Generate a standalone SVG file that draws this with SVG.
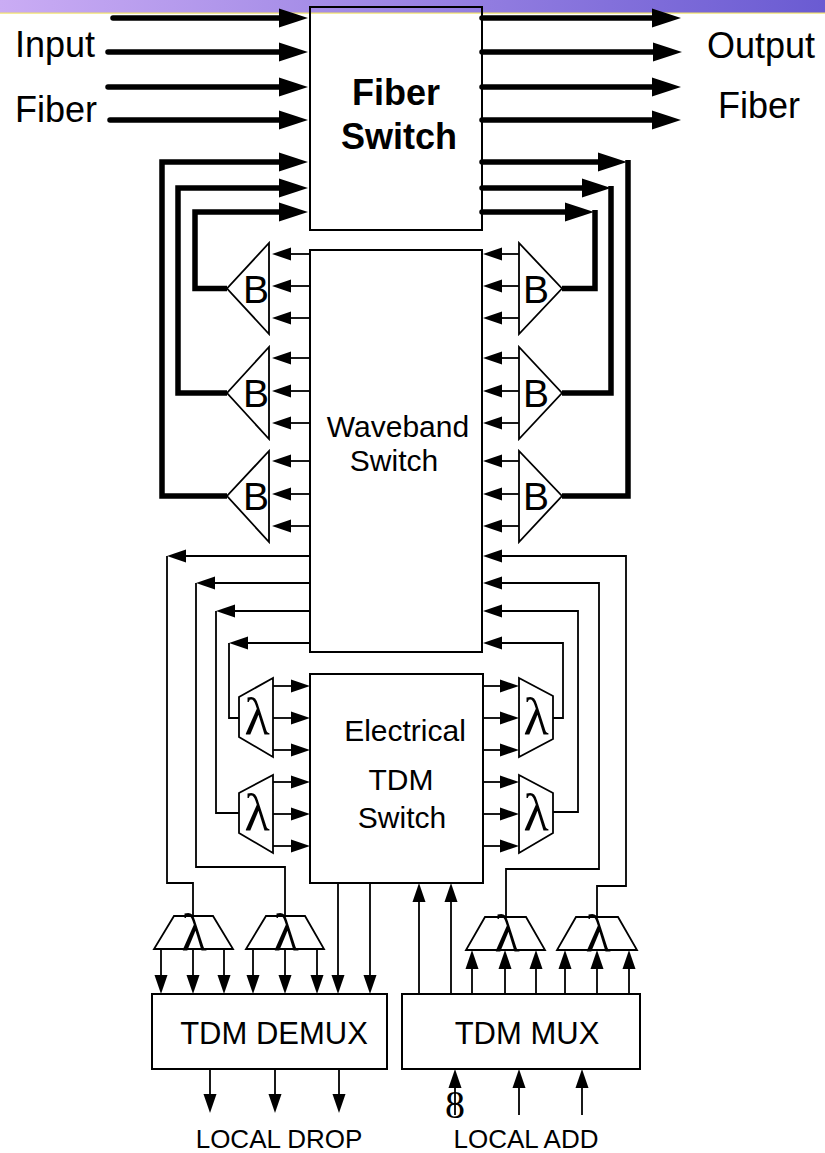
<svg xmlns="http://www.w3.org/2000/svg" width="825" height="1153" viewBox="0 0 825 1153">
<style>
.box{fill:none;stroke:#000;stroke-width:2}
.shape{fill:#fff;stroke:#000;stroke-width:1.8;stroke-linejoin:miter}
.thick{fill:none;stroke:#000;stroke-width:5.5;stroke-linejoin:miter}
.thin{fill:none;stroke:#000;stroke-width:1.8}
.sans{font-family:"Liberation Sans",Arial,sans-serif;fill:#000}
.serif{font-family:"Liberation Serif","Times New Roman",serif;fill:#000}
.big{font-size:36px}
.mid{font-size:30px}
.lab{font-size:26px}
.bee{font-size:39px}
.lam{font-size:52px}
</style>
<defs>
<linearGradient id="bar" x1="0" y1="0" x2="1" y2="0">
<stop offset="0" stop-color="#caacf4"/>
<stop offset="1" stop-color="#6a5bd2"/>
</linearGradient>
<marker id="ta" viewBox="0 -10 29 20" markerWidth="29" markerHeight="20" refX="0" refY="0" orient="auto" markerUnits="userSpaceOnUse"><path d="M0,-9.5 L29,0 L0,9.5 z" fill="#000"/></marker>
<marker id="sa" viewBox="0 -7 19 14" markerWidth="19" markerHeight="14" refX="0" refY="0" orient="auto" markerUnits="userSpaceOnUse"><path d="M0,-6.5 L19,0 L0,6.5 z" fill="#000"/></marker>
</defs>
<rect x="0" y="0" width="825" height="13" fill="url(#bar)"/>
<rect x="0" y="12.5" width="825" height="1.2" fill="#f2e36a"/>

<g id="fiber-switch">
<rect class="box" x="310" y="7" width="172" height="223"/>
<text class="sans big" x="396" y="105" text-anchor="middle" font-weight="bold">Fiber</text>
<text class="sans big" x="399" y="149" text-anchor="middle" font-weight="bold">Switch</text>
</g>
<g id="input-label"><text class="sans big" x="15" y="57">Input</text><text class="sans big" x="15" y="122">Fiber</text></g>
<g id="output-label"><text class="sans big" x="707" y="58">Output</text><text class="sans big" x="718" y="118">Fiber</text></g>

<g id="waveband-switch">
<rect class="box" x="310" y="250" width="172" height="402"/>
<text class="sans mid" x="398" y="437" text-anchor="middle">Waveband</text>
<text class="sans mid" x="394" y="471" text-anchor="middle">Switch</text>
</g>

<g id="tdm-switch">
<rect class="box" x="310" y="674" width="173" height="209"/>
<text class="sans mid" x="405" y="741" text-anchor="middle">Electrical</text>
<text class="sans mid" x="401" y="790" text-anchor="middle">TDM</text>
<text class="sans mid" x="402" y="828" text-anchor="middle">Switch</text>
</g>

<g id="b-left-1"><polygon class="shape" points="269,243 269,334 227,288.5"/><text class="sans bee" x="256" y="303" text-anchor="middle">B</text></g>
<g id="b-left-2"><polygon class="shape" points="269,347 269,439 227,393"/><text class="sans bee" x="256" y="407" text-anchor="middle">B</text></g>
<g id="b-left-3"><polygon class="shape" points="269,451 269,542 227,496"/><text class="sans bee" x="256" y="510" text-anchor="middle">B</text></g>
<g id="b-right-1"><polygon class="shape" points="519,243 519,334 562,288.5"/><text class="sans bee" x="536" y="303" text-anchor="middle">B</text></g>
<g id="b-right-2"><polygon class="shape" points="519,347 519,439 562,393"/><text class="sans bee" x="536" y="407" text-anchor="middle">B</text></g>
<g id="b-right-3"><polygon class="shape" points="519,451 519,542 562,496"/><text class="sans bee" x="536" y="510" text-anchor="middle">B</text></g>

<g id="lambda-left-1"><polygon class="shape" points="239,697 273,678 273,757 239,737"/><text class="serif lam" x="257" y="734" text-anchor="middle">λ</text></g>
<g id="lambda-left-2"><polygon class="shape" points="239,793 273,775 273,853 239,833"/><text class="serif lam" x="257" y="830" text-anchor="middle">λ</text></g>
<g id="lambda-right-1"><polygon class="shape" points="519,678 553,696 553,739 519,757"/><text class="serif lam" x="536" y="734" text-anchor="middle">λ</text></g>
<g id="lambda-right-2"><polygon class="shape" points="519,775 553,793 553,833 519,853"/><text class="serif lam" x="536" y="830" text-anchor="middle">λ</text></g>

<g id="demux-lambda-1"><polygon class="shape" points="174,916 213,916 233,949 154,949"/><text class="serif lam" x="194" y="950" text-anchor="middle">λ</text></g>
<g id="demux-lambda-2"><polygon class="shape" points="266,916 305,916 324,949 246,949"/><text class="serif lam" x="286" y="950" text-anchor="middle">λ</text></g>
<g id="mux-lambda-1"><polygon class="shape" points="485,917 526,917 545,950 466,950"/><text class="serif lam" x="507" y="951" text-anchor="middle">λ</text></g>
<g id="mux-lambda-2"><polygon class="shape" points="576,917 618,917 637,950 557,950"/><text class="serif lam" x="598" y="951" text-anchor="middle">λ</text></g>

<g id="tdm-demux">
<rect class="box" x="152" y="994" width="235" height="75"/>
<text class="sans" font-size="31" x="274" y="1044" text-anchor="middle">TDM DEMUX</text>
</g>
<g id="tdm-mux">
<rect class="box" x="402" y="994" width="238" height="75"/>
<text class="sans" font-size="31" x="527" y="1044" text-anchor="middle">TDM MUX</text>
</g>
<g id="local-drop"><text class="sans lab" x="279" y="1148" text-anchor="middle">LOCAL DROP</text></g>
<g id="local-add"><text class="sans lab" x="526" y="1148" text-anchor="middle">LOCAL ADD</text></g>

<g id="connectors">
<g stroke-linecap="round">
<path class="thick" d="M113,18 H279" marker-end="url(#ta)"/>
<path class="thick" d="M108,52 H279" marker-end="url(#ta)"/>
<path class="thick" d="M108,87 H279" marker-end="url(#ta)"/>
<path class="thick" d="M110,120 H279" marker-end="url(#ta)"/>
<path class="thick" d="M482,18 H652" marker-end="url(#ta)"/>
<path class="thick" d="M482,52 H653" marker-end="url(#ta)"/>
<path class="thick" d="M482,87 H652" marker-end="url(#ta)"/>
<path class="thick" d="M482,120 H652" marker-end="url(#ta)"/>
<path class="thick" d="M482,162 H598" marker-end="url(#ta)"/>
<path class="thick" d="M482,188 H582" marker-end="url(#ta)"/>
<path class="thick" d="M482,212 H565" marker-end="url(#ta)"/>
</g>
<path class="thick" d="M227,288.5 H195 V212 H279" marker-end="url(#ta)"/>
<path class="thick" d="M227,393 H178 V188 H279" marker-end="url(#ta)"/>
<path class="thick" d="M227,496 H162 V162 H279" marker-end="url(#ta)"/>
<path class="thick" d="M628,160 V496 H562"/>
<path class="thick" d="M611,186 V393 H562"/>
<path class="thick" d="M595,210 V288.5 H562"/>
<path class="thin" d="M310,254 H291" marker-end="url(#sa)"/>
<path class="thin" d="M310,286 H291" marker-end="url(#sa)"/>
<path class="thin" d="M310,318 H291" marker-end="url(#sa)"/>
<path class="thin" d="M310,358 H291" marker-end="url(#sa)"/>
<path class="thin" d="M310,391 H291" marker-end="url(#sa)"/>
<path class="thin" d="M310,423 H291" marker-end="url(#sa)"/>
<path class="thin" d="M310,461 H291" marker-end="url(#sa)"/>
<path class="thin" d="M310,494 H291" marker-end="url(#sa)"/>
<path class="thin" d="M310,526 H291" marker-end="url(#sa)"/>
<path class="thin" d="M519,254 H502" marker-end="url(#sa)"/>
<path class="thin" d="M519,286 H502" marker-end="url(#sa)"/>
<path class="thin" d="M519,318 H502" marker-end="url(#sa)"/>
<path class="thin" d="M519,358 H502" marker-end="url(#sa)"/>
<path class="thin" d="M519,391 H502" marker-end="url(#sa)"/>
<path class="thin" d="M519,423 H502" marker-end="url(#sa)"/>
<path class="thin" d="M519,461 H502" marker-end="url(#sa)"/>
<path class="thin" d="M519,494 H502" marker-end="url(#sa)"/>
<path class="thin" d="M519,526 H502" marker-end="url(#sa)"/>
<path class="thin" d="M310,556 H186" marker-end="url(#sa)"/>
<path class="thin" d="M167,556 V883 H193 V916"/>
<path class="thin" d="M310,583 H215" marker-end="url(#sa)"/>
<path class="thin" d="M196,583 V867 H285 V916"/>
<path class="thin" d="M310,611 H235" marker-end="url(#sa)"/>
<path class="thin" d="M216,611 V813 H239"/>
<path class="thin" d="M310,643 H248" marker-end="url(#sa)"/>
<path class="thin" d="M229,643 V718 H239"/>
<path class="thin" d="M273,686 H291" marker-end="url(#sa)"/>
<path class="thin" d="M273,718 H291" marker-end="url(#sa)"/>
<path class="thin" d="M273,750 H291" marker-end="url(#sa)"/>
<path class="thin" d="M273,782 H291" marker-end="url(#sa)"/>
<path class="thin" d="M273,814 H291" marker-end="url(#sa)"/>
<path class="thin" d="M273,846 H291" marker-end="url(#sa)"/>
<path class="thin" d="M483,686 H500" marker-end="url(#sa)"/>
<path class="thin" d="M483,718 H500" marker-end="url(#sa)"/>
<path class="thin" d="M483,750 H500" marker-end="url(#sa)"/>
<path class="thin" d="M483,782 H500" marker-end="url(#sa)"/>
<path class="thin" d="M483,814 H500" marker-end="url(#sa)"/>
<path class="thin" d="M483,846 H500" marker-end="url(#sa)"/>
<path class="thin" d="M553,718 H563 V643 H502" marker-end="url(#sa)"/>
<path class="thin" d="M553,812 H578 V611 H502" marker-end="url(#sa)"/>
<path class="thin" d="M506,917 V869 H599 V583 H502" marker-end="url(#sa)"/>
<path class="thin" d="M597,917 V886 H626 V556 H502" marker-end="url(#sa)"/>
<path class="thin" d="M161,949 V975" marker-end="url(#sa)"/>
<path class="thin" d="M193,949 V975" marker-end="url(#sa)"/>
<path class="thin" d="M224,949 V975" marker-end="url(#sa)"/>
<path class="thin" d="M253,949 V975" marker-end="url(#sa)"/>
<path class="thin" d="M285,949 V975" marker-end="url(#sa)"/>
<path class="thin" d="M317,949 V975" marker-end="url(#sa)"/>
<path class="thin" d="M338,883 V975" marker-end="url(#sa)"/>
<path class="thin" d="M370,883 V975" marker-end="url(#sa)"/>
<path class="thin" d="M472,994 V969" marker-end="url(#sa)"/>
<path class="thin" d="M505,994 V969" marker-end="url(#sa)"/>
<path class="thin" d="M536,994 V969" marker-end="url(#sa)"/>
<path class="thin" d="M565,994 V969" marker-end="url(#sa)"/>
<path class="thin" d="M597,994 V969" marker-end="url(#sa)"/>
<path class="thin" d="M629,994 V969" marker-end="url(#sa)"/>
<path class="thin" d="M419,994 V902" marker-end="url(#sa)"/>
<path class="thin" d="M451,994 V902" marker-end="url(#sa)"/>
<path class="thin" d="M210,1069 V1094" marker-end="url(#sa)"/>
<path class="thin" d="M275,1069 V1094" marker-end="url(#sa)"/>
<path class="thin" d="M339,1069 V1094" marker-end="url(#sa)"/>
<path class="thin" d="M455,1115 V1088" marker-end="url(#sa)"/>
<path class="thin" d="M519,1115 V1088" marker-end="url(#sa)"/>
<path class="thin" d="M582,1115 V1088" marker-end="url(#sa)"/>
</g>
<g id="count-label"><text class="serif" font-size="40" x="455" y="1118" text-anchor="middle">8</text></g>
</svg>
